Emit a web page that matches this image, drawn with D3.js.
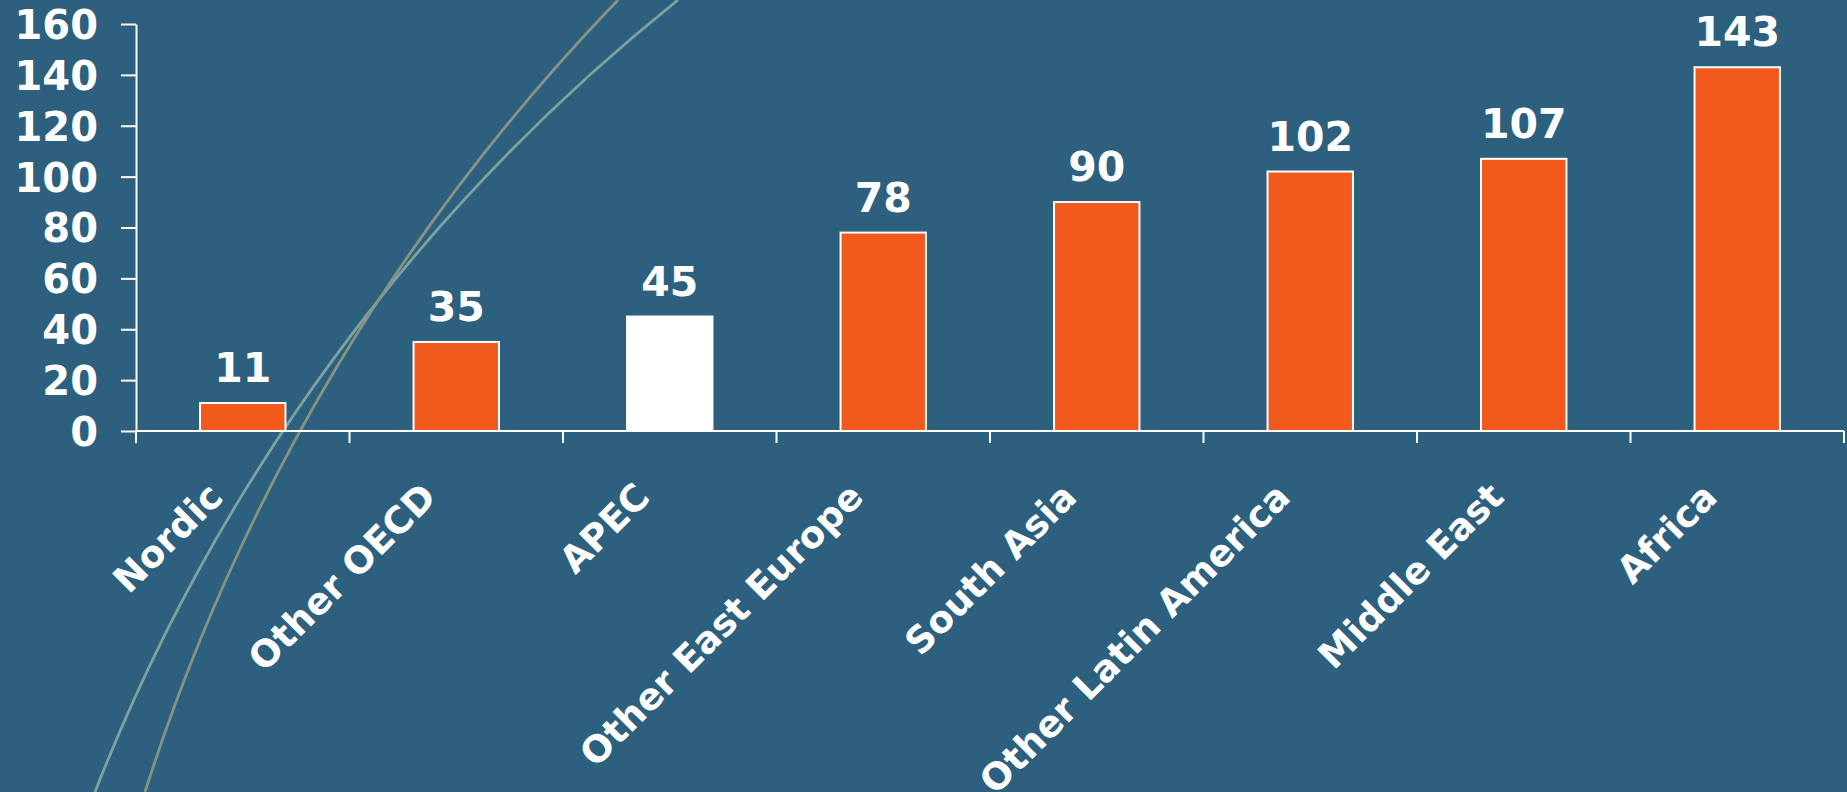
<!DOCTYPE html>
<html>
<head>
<meta charset="utf-8">
<script src="https://cdn.jsdelivr.net/npm/d3@7"></script>
<style>
  html, body { margin: 0; padding: 0; background: #2d5f7e; overflow: hidden; }
  svg { display: block; }
</style>
</head>
<body>
<div id="chart"></div>
<script>
// categories and values
const regions = ["Nordic", "Other OECD", "APEC", "Other East Europe", "South Asia",
                 "Other Latin America", "Middle East", "Africa"];
const values = [11, 35, 45, 78, 90, 102, 107, 143];
const highlight = ["APEC"];
const yTicks = [0, 20, 40, 60, 80, 100, 120, 140, 160];

// background swooshes (decoration only): start, middle, end of each arc
const swooshTeal = [[95, 792], [283, 431], [678, 0]];
const swooshGray = [[145, 792], [300, 431], [618, 0]];

const width = 1847, height = 792;
const margin = { top: 24, left: 136, right: 3, bottom: 361 };
const font = "'DejaVu Sans', Verdana, sans-serif";

const svg = d3.select("#chart")
  .append("svg")
  .attr("width", width)
  .attr("height", height);

svg.append("rect")
  .attr("width", width)
  .attr("height", height)
  .attr("fill", "#2d5f7e");

// circle through three points -> svg arc
function arcPath(pts) {
  const [a, b, c] = pts;
  const d = 2 * (a[0] * (b[1] - c[1]) + b[0] * (c[1] - a[1]) + c[0] * (a[1] - b[1]));
  const a2 = a[0] * a[0] + a[1] * a[1], b2 = b[0] * b[0] + b[1] * b[1], c2 = c[0] * c[0] + c[1] * c[1];
  const ux = (a2 * (b[1] - c[1]) + b2 * (c[1] - a[1]) + c2 * (a[1] - b[1])) / d;
  const uy = (a2 * (c[0] - b[0]) + b2 * (a[0] - c[0]) + c2 * (b[0] - a[0])) / d;
  const r = Math.hypot(a[0] - ux, a[1] - uy);
  return `M${a[0]},${a[1]} A${r},${r} 0 0 1 ${c[0]},${c[1]}`;
}

svg.append("path")
  .attr("d", arcPath(swooshTeal))
  .attr("fill", "none")
  .attr("stroke", "#7ea29f")
  .attr("stroke-width", 2.8);
svg.append("path")
  .attr("d", arcPath(swooshGray))
  .attr("fill", "none")
  .attr("stroke", "#889483")
  .attr("stroke-width", 2.8);

const x = d3.scaleBand()
  .domain(regions)
  .range([margin.left, width - margin.right])
  .paddingInner(0.6)
  .paddingOuter(0.3);

const y = d3.scaleLinear()
  .domain([0, 160])
  .range([height - margin.bottom, margin.top]);

const baseY = y(0);

// bars
svg.selectAll("rect.bar")
  .data(values)
  .enter()
  .append("rect")
  .attr("class", "bar")
  .attr("x", (d, i) => x(regions[i]))
  .attr("y", d => y(d))
  .attr("width", x.bandwidth())
  .attr("height", d => baseY - y(d))
  .attr("fill", (d, i) => highlight.includes(regions[i]) ? "#ffffff" : "#f15a1c")
  .attr("stroke", "#ffffff")
  .attr("stroke-width", 2);

// value labels
svg.selectAll("text.val")
  .data(values)
  .enter()
  .append("text")
  .attr("class", "val")
  .attr("x", (d, i) => x(regions[i]) + x.bandwidth() / 2)
  .attr("y", d => y(d) - 21)
  .attr("text-anchor", "middle")
  .attr("fill", "#ffffff")
  .style("font-family", font)
  .style("font-weight", "bold")
  .style("font-size", "41px")
  .text(d => d);

// y axis
const yAxis = svg.append("g")
  .attr("transform", `translate(${margin.left},0)`)
  .call(d3.axisLeft(y).tickValues(yTicks).tickSize(15).tickPadding(23).tickSizeOuter(0));
yAxis.select(".domain").attr("stroke", "#ffffff").attr("stroke-width", 2);
yAxis.selectAll(".tick line").attr("stroke", "#ffffff").attr("stroke-width", 2);
yAxis.selectAll(".tick text")
  .attr("fill", "#ffffff")
  .style("font-family", font)
  .style("font-weight", "bold")
  .style("font-size", "40px")
  .attr("dy", "0.36em");

// x axis line and boundary ticks
const step = x.step();
const x0 = margin.left;
svg.append("line")
  .attr("x1", x0).attr("x2", width - margin.right)
  .attr("y1", baseY).attr("y2", baseY)
  .attr("stroke", "#ffffff").attr("stroke-width", 2);
svg.selectAll("line.xtick")
  .data(d3.range(regions.length + 1))
  .enter()
  .append("line")
  .attr("class", "xtick")
  .attr("x1", i => x0 + i * step).attr("x2", i => x0 + i * step)
  .attr("y1", baseY).attr("y2", baseY + 12)
  .attr("stroke", "#ffffff").attr("stroke-width", 2);

// rotated category labels
svg.selectAll("text.cat")
  .data(regions)
  .enter()
  .append("text")
  .attr("class", "cat")
  .attr("transform", d => `translate(${x(d) + x.bandwidth() / 2 - 18},${baseY + 68}) rotate(-45)`)
  .attr("text-anchor", "end")
  .attr("fill", "#ffffff")
  .style("font-family", font)
  .style("font-weight", "bold")
  .style("font-size", "37px")
  .text(d => d);
</script>
</body>
</html>
